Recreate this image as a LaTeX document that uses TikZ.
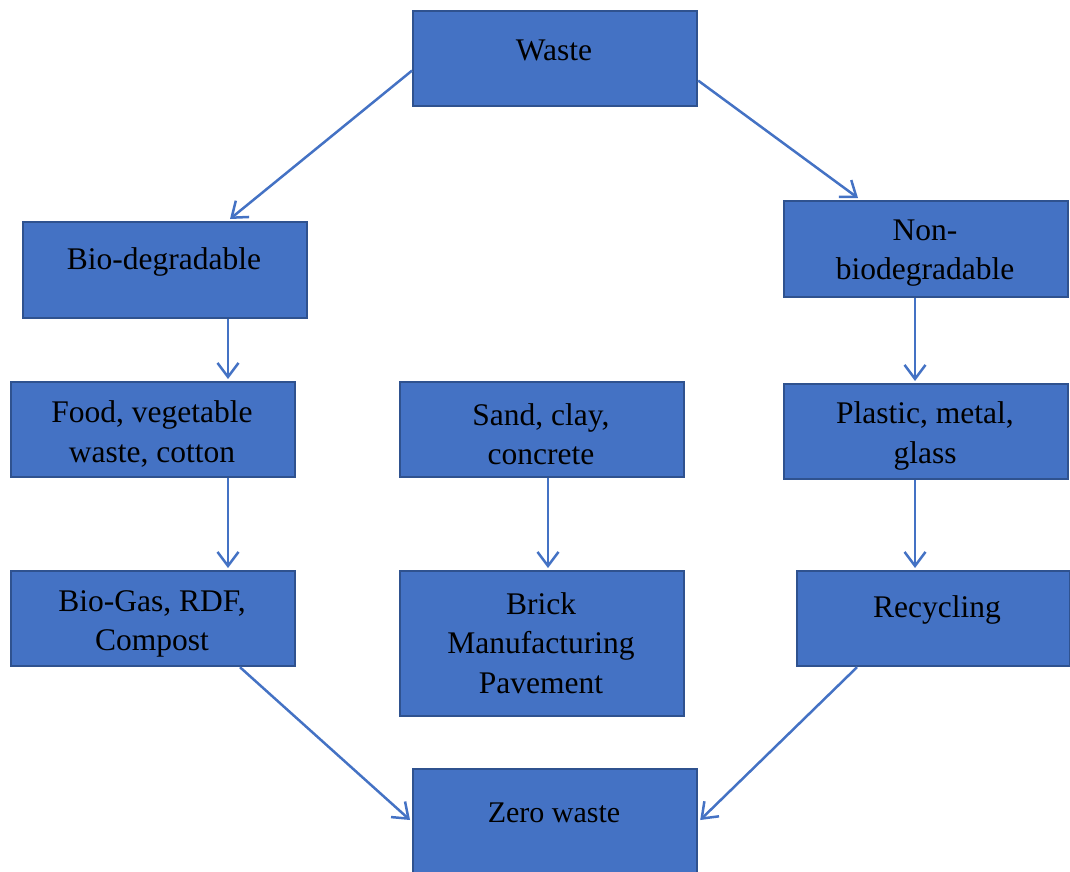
\documentclass[tikz,border=0pt]{standalone}
\usepackage{fontspec}
\setmainfont{Liberation Serif}
\usetikzlibrary{arrows.meta,calc}
\definecolor{boxfill}{HTML}{4472C4}
\definecolor{boxline}{HTML}{2F528F}
\definecolor{arrowc}{HTML}{4472C4}
\tikzset{
  block/.style={draw=boxline, line width=2.2pt, fill=boxfill, rectangle, anchor=north west, inner sep=0pt},
  lbl/.style={align=center, inner sep=0pt, font=\fontsize{31.5}{39.5}\selectfont},
  flow/.style={draw=arrowc, line width=2.5pt, -{Straight Barb[length=14pt,width=21pt,line width=2.5pt]}},
}
\begin{document}
\begin{tikzpicture}[x=1pt,y=-1pt]
\useasboundingbox (0,0) rectangle (1070,871);
% boxes
\node[block, minimum width=284pt, minimum height=95pt] (waste) at (412,10) {};
\node[block, minimum width=284pt, minimum height=96pt] (bio) at (22,221) {};
\node[block, minimum width=284pt, minimum height=96pt] (nonbio) at (783,200) {};
\node[block, minimum width=284pt, minimum height=95pt] (food) at (10,381) {};
\node[block, minimum width=284pt, minimum height=95pt] (sand) at (399,381) {};
\node[block, minimum width=284pt, minimum height=95pt] (plastic) at (783,383) {};
\node[block, minimum width=284pt, minimum height=95pt] (biogas) at (10,570) {};
\node[block, minimum width=284pt, minimum height=145pt] (brick) at (399,570) {};
\node[block, minimum width=273pt, minimum height=95pt] (recyc) at (796,570) {};
\node[block, minimum width=284pt, minimum height=110pt] (zero) at (412,768) {};
% labels
\node[lbl] (twaste) at (554,50) {Waste};
\node[lbl] (tbio) at (164,262) {Bio-degradable};
\node[lbl] (tnonbio) at (925,253) {Non-\\biodegradable};
\node[lbl] (tfood) at (152,434) {Food, vegetable\\waste, cotton};
\node[lbl] (tsand) at (541,434) {Sand, clay,\\concrete};
\node[lbl] (tplastic) at (925,436) {Plastic, metal,\\glass};
\node[lbl] (tbiogas) at (152,624) {Bio-Gas, RDF,\\Compost};
\node[lbl] (tbrick) at (541,643) {Brick\\Manufacturing\\Pavement};
\node[lbl] (trecyc) at (937,610) {Recycling};
\node[lbl, font=\fontsize{30}{39}\selectfont] (tzero) at (554,813) {Zero waste};
% connectors
\draw[flow] ($(waste.west)+(0,12)$) -- ($(bio.north west)+(208,-2)$);
\draw[flow] ($(waste.east)+(0,22)$) -- ($(nonbio.north west)+(75,-2)$);
\draw[flow] ($(bio.south west)+(206,0)$) -- ($(food.north west)+(218,-2)$);
\draw[flow] ($(nonbio.south west)+(132,0)$) -- ($(plastic.north west)+(132,-2)$);
\draw[flow] ($(food.south west)+(218,0)$) -- ($(biogas.north west)+(218,-2)$);
\draw[flow] ($(sand.south west)+(149,0)$) -- ($(brick.north west)+(149,-2)$);
\draw[flow] ($(plastic.south west)+(132,0)$) -- ($(recyc.north west)+(119,-2)$);
\draw[flow] ($(biogas.south west)+(230,0)$) -- ($(zero.north west)+(-2,52)$);
\draw[flow] ($(recyc.south west)+(61,0)$) -- ($(zero.north east)+(2,52)$);
\end{tikzpicture}
\end{document}
